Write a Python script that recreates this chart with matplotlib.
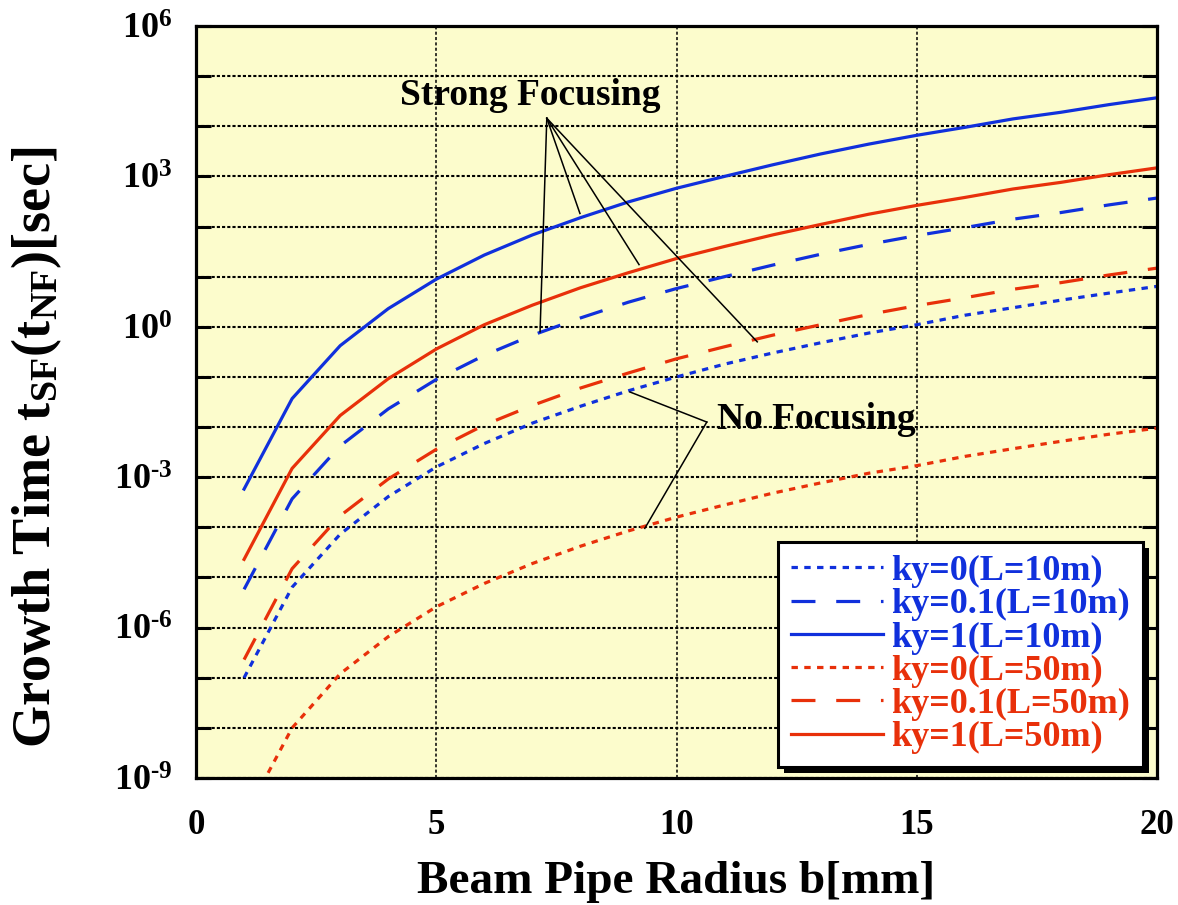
import numpy as np
import matplotlib
matplotlib.use('Agg')
import matplotlib.pyplot as plt
from matplotlib.patches import Rectangle
from matplotlib.ticker import FixedLocator, FuncFormatter, NullFormatter

plt.rcParams['font.family'] = 'Liberation Serif'
plt.rcParams['font.weight'] = 'bold'
plt.rcParams['axes.labelweight'] = 'bold'
plt.rcParams['mathtext.fontset'] = 'custom'
plt.rcParams['mathtext.rm'] = 'Liberation Serif:bold'
plt.rcParams['mathtext.it'] = 'Liberation Serif:bold'
plt.rcParams['mathtext.bf'] = 'Liberation Serif:bold'

# beam pipe radius b [mm]
b = [1, 2, 3, 4, 5, 6, 7, 8, 9, 10, 11, 12, 13, 14, 15, 16, 17, 18, 19, 20]

# growth time [sec]
ky1_L10 = [5.8e-4, 3.7e-2, 0.42, 2.3, 8.9, 27, 68, 150, 310, 580,
           1000, 1700, 2800, 4400, 6600, 9500, 1.4e4, 1.9e4, 2.7e4, 3.7e4]
ky01_L10 = [5.8e-6, 3.7e-4, 4.2e-3, 2.3e-2, 8.9e-2, 0.27, 0.68, 1.5, 3.1, 5.8,
            10, 17, 28, 44, 66, 95, 140, 190, 270, 370]
ky0_L10 = [1e-7, 6.4e-6, 7.3e-5, 4.1e-4, 1.6e-3, 4.7e-3, 1.2e-2, 2.6e-2, 5.3e-2, 0.1,
           0.18, 0.30, 0.48, 0.75, 1.1, 1.7, 2.4, 3.4, 4.7, 6.4]
ky1_L50 = [2.3e-5, 1.5e-3, 1.7e-2, 9.2e-2, 0.36, 1.1, 2.7, 6.0, 12, 23,
           40, 68, 110, 176, 264, 380, 560, 760, 1080, 1480]
ky01_L50 = [2.3e-7, 1.5e-5, 1.7e-4, 9.2e-4, 3.6e-3, 1.1e-2, 2.7e-2, 6.0e-2, 0.12, 0.23,
            0.40, 0.68, 1.1, 1.76, 2.64, 3.8, 5.6, 7.6, 10.8, 14.8]
ky0_L50 = [1.6e-10, 1.0e-8, 1.2e-7, 6.6e-7, 2.6e-6, 7.6e-6, 1.9e-5, 4.2e-5, 8.5e-5, 1.6e-4,
           2.8e-4, 4.8e-4, 7.7e-4, 1.2e-3, 1.7e-3, 2.6e-3, 3.7e-3, 5.2e-3, 7.2e-3, 9.5e-3]

labels = ['ky=0(L=10m)', 'ky=0.1(L=10m)', 'ky=1(L=10m)',
          'ky=0(L=50m)', 'ky=0.1(L=50m)', 'ky=1(L=50m)']

blue = '#1030dc'
red = '#e8300a'
dotted = (0, (2, 2))
dashed = (0, (7.5, 6.5))

fig = plt.figure(figsize=(11.78, 9.05), dpi=100)
ax = fig.add_axes([0.1664, 0.1403, 0.8158, 0.8310])
ax.set_facecolor('#fcfccc')

lw = 2.3
ax.plot(b, ky0_L10, color=blue, lw=lw, ls=dotted, label=labels[0])
ax.plot(b, ky01_L10, color=blue, lw=lw, ls=dashed, label=labels[1])
ax.plot(b, ky1_L10, color=blue, lw=lw, label=labels[2])
ax.plot(b, ky0_L50, color=red, lw=lw, ls=dotted, label=labels[3])
ax.plot(b, ky01_L50, color=red, lw=lw, ls=dashed, label=labels[4])
ax.plot(b, ky1_L50, color=red, lw=lw, label=labels[5])

ax.set_yscale('log')
ax.set_xlim(0, 20)
ax.set_ylim(1e-9, 1e6)

# ticks and grid
ax.yaxis.set_major_locator(FixedLocator([1e-9, 1e-6, 1e-3, 1e0, 1e3, 1e6]))
ax.yaxis.set_minor_locator(FixedLocator([10.0 ** k for k in range(-9, 7)]))
ax.yaxis.set_minor_formatter(NullFormatter())
ax.yaxis.set_major_formatter(FuncFormatter(
    lambda v, p: '10$^{\\text{%d}}$' % int(round(np.log10(v)))))
ax.set_xticks([0, 5, 10, 15, 20])
ax.tick_params(axis='y', which='both', direction='in', length=11, width=2.2,
               left=True, right=True, labelsize=26, pad=17)
ax.tick_params(axis='x', which='both', length=0, labelsize=25, pad=22)
ax.grid(True, axis='y', which='minor', color='black', lw=1.5, ls=(0, (1.5, 1)))
ax.grid(True, axis='y', which='major', color='black', lw=1.5, ls=(0, (1.5, 1)))
for xv in [5, 10, 15]:
    ax.axvline(xv, color='black', lw=1.1, ls=(0, (2, 1.5)), zorder=0.9)
for s in ax.spines.values():
    s.set_linewidth(2.3)

ax.set_xlabel('Beam Pipe Radius b[mm]', fontsize=34, fontweight='bold')
ax.xaxis.set_label_coords(0.5, -0.11)
ax.set_ylabel('Growth Time t$_{\\mathrm{SF}}$(t$_{\\mathrm{NF}}$)[sec]',
              fontsize=39, fontweight='bold')
ax.yaxis.set_label_coords(-0.137, 0.44)

# annotations
ax.text(6.95, 10 ** 4.62, 'Strong Focusing', fontsize=27, ha='center', va='center')
for ex, ey in [(7.16, 10 ** -0.1), (7.99, 10 ** 2.26), (9.22, 10 ** 1.24), (11.68, 10 ** -0.3)]:
    ax.plot([7.3, ex], [10 ** 4.16, ey], color='black', lw=1.1)
ax.text(10.84, 10 ** -1.84, 'No Focusing', fontsize=27, ha='left', va='center')
for ex, ey in [(9.03, 10 ** -1.3), (9.34, 10 ** -4.02)]:
    ax.plot([10.63, ex], [10 ** -1.9, ey], color='black', lw=1.1)

leg = ax.legend(loc='lower right', bbox_to_anchor=(0.985, 0.0146), fontsize=26,
                labelcolor='linecolor', fancybox=False, framealpha=1,
                edgecolor='black', handlelength=2.55, handletextpad=0.22,
                labelspacing=0.0, borderpad=0.35, borderaxespad=0)
leg.get_frame().set_linewidth(2.2)
leg.set_zorder(6)

# drop shadow under the legend box
fig.canvas.draw()
bb = leg.get_window_extent().transformed(ax.transAxes.inverted())
dx = 6 / (0.8158 * 1178)
dy = 6 / (0.8310 * 905)
ax.add_artist(Rectangle((bb.x0 + dx, bb.y0 - dy), bb.width, bb.height,
                        transform=ax.transAxes, facecolor='black',
                        edgecolor='none', zorder=5.5, clip_on=False))

fig.savefig('out.png', dpi=100)
